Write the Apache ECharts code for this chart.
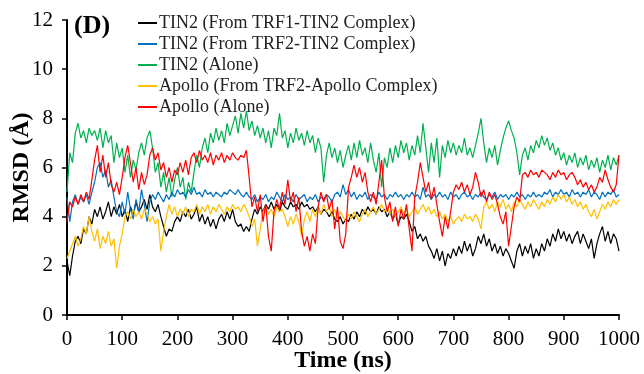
<!DOCTYPE html>
<html>
<head>
<meta charset="utf-8">
<script src="https://cdn.jsdelivr.net/npm/echarts@6/dist/echarts.min.js"></script>
<style>html,body{margin:0;padding:0;background:#fff}#c{width:644px;height:374px}</style>
</head>
<body>
<div id="c"></div>
<script>
// Simulation time sampled every 5 ns, 0..1000 ns
const timeStep = 5;
const xTicks = [0,100,200,300,400,500,600,700,800,900,1000];
const yTicks = [0,2,4,6,8,10,12];
const seriesNames = [
  'TIN2 (From TRF1-TIN2 Complex)',
  'TIN2 (From TRF2-TIN2 Complex)',
  'TIN2 (Alone)',
  'Apollo (From TRF2-Apollo Complex)',
  'Apollo (Alone)'
];
const tin2Trf1 = [2.2,1.6,2.4,3.0,3.2,2.9,3.5,3.3,4.0,3.7,4.3,4.0,4.4,3.9,4.2,4.6,4.0,4.4,4.1,4.5,
4.0,4.3,3.8,4.4,4.1,4.6,4.2,4.4,4.7,4.3,4.9,4.4,4.2,4.5,4.0,3.6,3.2,3.5,3.4,3.8,
4.0,3.8,4.2,4.0,4.3,3.9,4.1,4.4,3.8,4.1,3.7,4.0,3.6,3.9,3.5,3.9,4.1,3.8,4.2,3.9,
4.3,3.8,3.6,3.7,3.4,3.6,3.4,3.9,4.3,4.1,4.4,4.2,4.5,4.3,4.6,4.3,4.5,4.2,4.6,4.4,
4.3,4.6,4.4,4.5,4.3,4.6,4.4,4.5,4.3,4.4,4.2,4.4,4.1,4.3,4.2,4.0,4.2,3.9,3.8,4.0,
3.7,3.9,3.8,4.1,3.9,4.2,4.0,4.3,4.1,4.4,4.2,4.3,4.1,4.4,4.2,4.3,4.0,4.2,3.9,4.1,
3.7,4.0,3.9,4.1,3.8,3.4,3.6,3.1,3.3,3.0,3.2,2.8,2.6,2.3,2.7,2.2,2.6,2.0,2.5,2.3,
2.7,2.4,2.8,2.5,3.0,2.6,2.9,2.4,2.7,3.2,2.9,3.3,2.8,3.1,2.6,2.9,2.5,2.8,2.4,2.7,
2.5,2.2,1.9,2.6,2.9,2.4,2.8,2.5,2.9,2.3,2.7,2.4,2.9,2.6,3.1,2.8,3.3,3.0,3.5,3.1,
3.4,3.0,3.3,2.9,3.2,3.4,2.9,3.3,3.0,2.7,3.1,2.3,2.9,3.3,3.6,3.0,3.4,2.9,3.3,3.1,
2.6];
const tin2Trf2 = [4.8,3.8,4.6,4.9,4.5,4.8,4.6,4.9,4.5,5.0,5.4,6.0,6.2,5.6,5.9,5.2,5.5,4.8,4.2,4.0,
4.6,4.1,5.0,4.3,3.9,4.7,4.2,5.1,4.5,3.8,4.6,4.9,4.7,5.0,4.8,4.6,4.9,4.7,5.0,4.8,
5.1,4.9,5.0,4.8,5.1,4.9,5.2,4.9,5.0,4.8,5.1,4.9,5.0,4.8,5.0,4.9,4.8,5.0,4.9,5.1,
5.0,4.9,5.1,4.9,4.8,5.0,4.8,4.7,4.9,4.6,4.8,4.7,4.9,4.6,4.8,4.7,5.0,4.8,4.6,4.9,
4.7,4.8,4.6,4.9,4.7,4.8,4.9,4.6,4.8,4.7,4.9,4.6,4.8,4.7,4.9,4.8,4.6,4.9,5.0,4.8,
5.3,4.9,5.1,4.8,5.0,4.7,4.9,4.8,5.0,4.7,4.9,4.8,4.7,5.0,4.8,4.9,4.7,4.9,4.8,5.0,
4.8,4.9,4.7,4.9,4.8,5.0,4.8,4.9,4.7,5.2,4.8,4.9,4.7,4.9,4.8,5.0,4.8,4.9,4.7,5.0,
4.8,4.9,4.7,4.9,5.0,4.8,4.9,4.7,4.9,4.8,5.0,4.8,4.7,4.9,4.8,5.0,4.7,4.9,4.8,4.9,
4.7,4.9,4.8,5.0,4.8,4.9,4.7,4.9,4.8,5.0,4.8,4.9,4.8,5.0,4.9,5.1,4.8,5.0,4.9,5.1,
4.9,5.0,4.8,5.1,4.9,5.0,4.8,5.0,4.9,5.1,4.8,5.0,4.9,4.7,5.0,4.8,5.0,4.9,5.1,4.8,
4.9];
const tin2Alone = [5.0,6.6,6.2,7.4,7.8,7.2,7.5,7.0,7.6,7.3,7.5,7.1,7.6,6.8,7.5,7.0,7.3,6.2,7.0,6.4,
6.8,5.8,6.5,5.6,6.3,5.9,6.6,7.0,6.5,7.2,7.5,6.8,5.8,6.2,5.2,5.8,5.0,5.6,4.8,5.5,
6.0,5.2,5.6,4.7,5.4,5.0,5.8,6.5,6.0,6.8,7.2,6.6,7.4,7.0,7.6,7.1,7.5,7.0,7.8,7.3,
7.7,8.1,7.4,8.2,7.6,8.3,7.5,7.9,7.3,7.7,7.2,7.6,7.0,7.5,6.8,7.6,7.3,8.2,7.2,7.5,
6.8,7.4,7.0,7.6,7.1,7.4,6.9,7.5,7.0,7.3,6.6,7.2,6.8,5.4,6.5,7.0,6.4,6.8,6.2,6.7,
6.0,6.5,6.9,6.3,7.0,6.4,7.1,6.5,6.8,6.2,7.0,6.3,5.8,6.6,5.2,6.4,6.0,6.8,6.2,6.9,
6.4,7.1,6.6,7.0,6.3,6.9,6.5,7.3,6.6,7.8,6.8,5.8,7.0,6.2,7.2,5.6,6.9,6.4,7.1,6.6,
7.0,6.5,6.9,6.6,7.2,6.5,6.8,6.4,6.9,7.4,8.0,7.0,6.2,6.8,6.4,6.9,6.1,6.7,7.2,7.6,
7.9,7.5,7.2,6.6,5.7,6.5,6.8,6.3,6.9,6.6,7.1,6.8,7.3,6.9,7.2,6.7,7.0,6.5,6.8,6.3,
6.6,6.1,6.5,6.2,6.6,6.0,6.4,6.1,6.5,5.9,6.3,6.0,6.4,5.8,6.3,6.0,6.5,5.9,6.4,6.1,
6.5];
const apolloTrf2 = [2.3,2.6,2.9,3.2,2.8,3.1,3.6,3.3,4.0,3.4,3.0,3.5,2.7,3.2,2.9,3.4,2.8,3.1,1.9,2.8,
3.3,4.0,4.2,3.9,4.3,4.0,4.2,3.9,4.3,4.1,3.8,4.0,3.7,3.9,2.6,3.4,4.0,4.5,4.1,4.4,
4.0,4.3,4.1,4.4,4.0,4.3,4.2,4.5,4.1,4.4,4.2,4.5,4.1,4.4,4.2,4.5,4.3,4.1,4.4,4.2,
4.5,4.3,4.4,4.2,4.5,4.3,4.0,3.6,3.9,2.8,3.5,4.2,4.4,4.1,4.3,4.0,4.4,4.2,4.3,4.0,
3.6,4.0,3.7,4.1,3.8,3.2,3.9,4.2,3.8,4.3,4.0,4.4,4.1,4.5,4.2,4.4,4.0,4.3,3.9,4.2,
4.0,3.8,4.1,3.9,4.2,4.0,3.8,4.1,4.3,4.0,4.2,4.4,4.1,4.3,4.5,4.2,4.4,4.1,4.3,4.0,
4.2,4.4,4.1,4.3,4.0,4.2,4.4,4.1,4.3,4.5,4.2,4.4,4.1,4.3,4.0,4.2,3.9,4.1,3.8,4.0,
3.7,3.9,4.0,3.8,4.1,3.9,4.0,3.8,4.1,3.9,3.5,4.4,4.6,4.3,4.5,4.2,4.6,4.4,4.7,4.3,
4.5,4.2,4.6,4.4,4.7,4.5,4.3,4.6,4.4,4.7,4.5,4.3,4.6,4.4,4.7,4.5,4.8,4.6,4.9,4.7,
4.9,4.6,4.8,4.5,4.7,4.4,4.6,4.3,4.5,4.2,4.0,4.3,3.9,4.2,4.5,4.3,4.6,4.4,4.7,4.5,
4.7];
const apolloAlone = [3.8,4.6,4.4,4.8,4.5,4.9,4.6,5.0,4.7,5.5,6.3,6.9,5.8,6.5,5.6,6.2,5.3,5.0,5.4,4.9,
5.6,6.4,6.9,6.2,5.4,6.0,5.1,5.8,5.3,5.7,6.5,6.8,6.3,6.6,5.9,6.2,5.6,6.0,5.4,5.9,
5.7,6.2,5.8,6.3,5.7,6.4,6.6,6.2,6.7,6.3,6.5,6.2,6.6,6.1,6.5,6.3,6.6,6.2,6.5,6.3,
6.6,6.4,6.3,6.5,6.4,6.7,5.6,4.4,4.8,4.2,4.9,3.8,4.5,3.2,2.6,4.2,4.7,4.3,5.0,4.5,
5.5,4.6,5.0,4.2,4.8,3.4,2.8,3.2,2.6,3.3,2.9,4.4,5.0,4.6,4.9,4.3,4.7,3.5,4.4,3.0,
2.7,3.3,5.2,5.6,6.1,5.6,6.0,5.4,5.8,5.0,4.6,5.0,4.5,5.4,6.3,4.8,4.2,4.6,3.8,4.4,
3.6,4.3,3.9,4.5,3.5,2.6,4.8,5.4,6.2,5.6,5.0,5.4,4.7,5.2,4.5,3.8,3.2,4.0,3.5,4.2,
5.0,5.3,5.1,5.4,5.0,5.3,4.9,5.2,5.8,5.4,4.8,5.1,4.6,5.0,4.7,4.9,4.5,4.0,3.7,4.2,
2.8,3.6,4.4,4.8,4.6,5.7,5.8,5.6,5.9,5.7,5.8,5.6,5.9,5.8,5.7,5.5,5.8,5.6,5.9,5.7,
5.8,5.5,5.7,5.8,5.6,5.3,5.5,5.2,5.4,5.1,5.3,5.0,5.2,5.6,5.4,5.9,5.5,5.2,5.0,5.3,
6.5];
const seriesColors = ['#000000','#0070C0','#00B050','#FFC000','#FF0000'];
const seriesData = [tin2Trf1, tin2Trf2, tin2Alone, apolloTrf2, apolloAlone];
const drawOrder = [2,0,1,3,4];

const chart = echarts.init(document.getElementById('c'), null, {renderer:'canvas'});
const FONT = '"Liberation Serif","Times New Roman",serif';
const series = drawOrder.map(k => ({
  name: seriesNames[k],
  type: 'line',
  data: seriesData[k].map((v,i) => [i*timeStep, v]),
  showSymbol: false,
  symbol: 'none',
  lineStyle: {width: 1.2, color: seriesColors[k]},
  itemStyle: {color: seriesColors[k]},
  animation: false,
  z: 2
}));

chart.setOption({
  animation: false,
  backgroundColor: '#fff',
  grid: {left: 67, right: 25, top: 20, bottom: 59, containLabel: false, outerBoundsMode: 'none'},
  legend: {
    data: seriesNames,
    orient: 'vertical',
    left: 133, top: 9,
    itemWidth: 19, itemHeight: 2, itemGap: 3,
    icon: 'rect',
    textStyle: {fontFamily: FONT, fontSize: 18, color: '#222', padding: [0,0,0,-3]},
    selectedMode: false
  },
  xAxis: {
    type: 'value', min: 0, max: 1000, interval: 100,
    name: 'Time (ns)', nameLocation: 'middle', nameGap: 34, nameMoveOverlap: false,
    nameTextStyle: {fontFamily: FONT, fontSize: 24, fontWeight: 'bold', color: '#000'},
    axisLine: {show: true, lineStyle: {color: '#000', width: 2}},
    axisTick: {show: true, inside: false, length: 5, lineStyle: {color: '#000', width: 1.5}},
    axisLabel: {fontFamily: FONT, fontSize: 21, color: '#000', margin: 14,
      formatter: v => xTicks.includes(v) ? String(v) : ''},
    splitLine: {show: false}
  },
  yAxis: {
    type: 'value', min: 0, max: 12, interval: 2,
    name: 'RMSD (Å)', nameLocation: 'middle', nameGap: 33, nameMoveOverlap: false,
    nameTextStyle: {fontFamily: FONT, fontSize: 24, fontWeight: 'bold', color: '#000'},
    axisLine: {show: true, lineStyle: {color: '#000', width: 2}},
    axisTick: {show: true, inside: false, length: 5, lineStyle: {color: '#000', width: 1.5}},
    axisLabel: {fontFamily: FONT, fontSize: 21, color: '#000', margin: 14,
      formatter: v => yTicks.includes(v) ? String(v) : ''},
    splitLine: {show: false}
  },
  graphic: [{
    type: 'text', left: 74, top: 13,
    style: {text: '(D)', font: 'bold 26px ' + FONT, fill: '#000'}
  }],
  series: series
});
</script>
</body>
</html>
